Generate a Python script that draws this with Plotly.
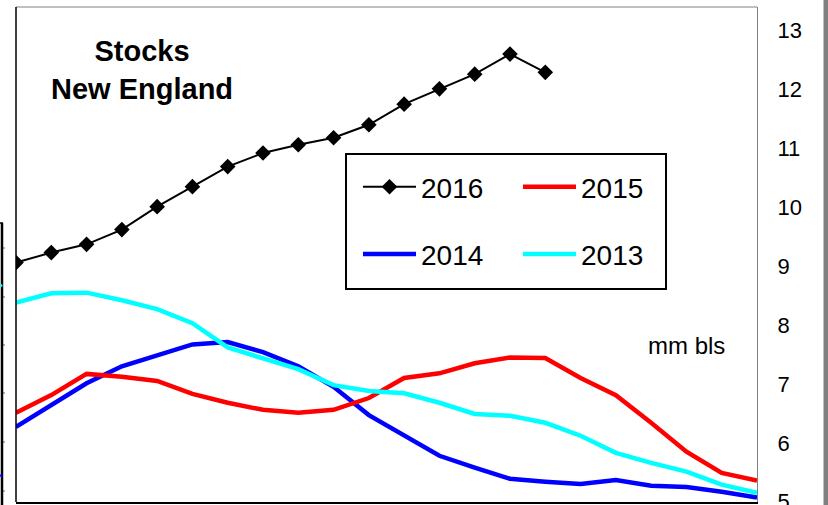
import plotly.graph_objects as go

# ---- data ----
months = list(range(22))
s2016 = [9.06, 9.23, 9.37, 9.62, 10.01, 10.35, 10.69, 10.92, 11.06, 11.18, 11.40,
         11.75, 12.01, 12.26, 12.60, 12.29]
s2015 = [6.51, 6.81, 7.17, 7.12, 7.05, 6.83, 6.68, 6.56, 6.51, 6.56, 6.76, 7.10,
         7.18, 7.35, 7.45, 7.44, 7.10, 6.81, 6.34, 5.85, 5.49, 5.36]
s2014 = [6.27, 6.64, 7.01, 7.30, 7.49, 7.67, 7.71, 7.54, 7.30, 6.95, 6.47, 6.13,
         5.78, 5.58, 5.39, 5.34, 5.30, 5.37, 5.27, 5.25, 5.17, 5.07]
s2013 = [8.38, 8.54, 8.55, 8.42, 8.27, 8.03, 7.62, 7.44, 7.25, 6.98, 6.88, 6.84,
         6.68, 6.49, 6.46, 6.34, 6.12, 5.83, 5.66, 5.51, 5.29, 5.15]
y_ticks = [5, 6, 7, 8, 9, 10, 11, 12, 13]

W, H = 828, 505
L, R, T, B = 16, 757, 7, 502
FONT = "Liberation Sans, Arial, sans-serif"


def fx(px):
    return (px - L) / (R - L)


def fy(py):
    return (B - py) / (B - T)


fig = go.Figure()
fig.add_trace(go.Scatter(x=months[:len(s2016)], y=s2016, name="2016", mode="lines+markers",
                         line=dict(color="black", width=2),
                         marker=dict(symbol="diamond", size=12, color="black"),
                         legend="legend", legendgroup="a"))
fig.add_trace(go.Scatter(x=months, y=s2014, name="2014", mode="lines",
                         line=dict(color="#0000FF", width=4.5),
                         legend="legend", legendgroup="b"))
fig.add_trace(go.Scatter(x=months, y=s2015, name="2015", mode="lines",
                         line=dict(color="#FF0000", width=4.5),
                         legend="legend2", legendgroup="c"))
fig.add_trace(go.Scatter(x=months, y=s2013, name="2013", mode="lines",
                         line=dict(color="#00FFFF", width=4.5),
                         legend="legend2", legendgroup="d"))

shapes = []
# frame: top and left
shapes.append(dict(type="line", xref="paper", yref="paper", x0=0, x1=1, y0=1, y1=1,
                   line=dict(color="#808080", width=1)))
shapes.append(dict(type="line", xref="paper", yref="paper", x0=0, x1=0, y0=0, y1=1,
                   line=dict(color="black", width=1.5)))
# legend box
shapes.append(dict(type="rect", xref="paper", yref="paper", x0=fx(346), x1=fx(666),
                   y0=fy(289), y1=fy(154), line=dict(color="black", width=2)))
# gray bar on the right edge
shapes.append(dict(type="rect", xref="paper", yref="paper", x0=fx(823.5), x1=fx(828),
                   y0=fy(505), y1=fy(0), line=dict(width=0), fillcolor="#808080"))
# remnant of neighbouring chart on the left edge
shapes.append(dict(type="line", xref="paper", yref="paper", x0=fx(2), x1=fx(2),
                   y0=fy(506), y1=fy(223), line=dict(color="black", width=2.5)))
shapes.append(dict(type="line", xref="paper", yref="paper", x0=fx(0), x1=fx(3),
                   y0=fy(223), y1=fy(223), line=dict(color="black", width=1.5)))
for ty in [248, 297, 345, 393, 442, 491]:
    shapes.append(dict(type="line", xref="paper", yref="paper", x0=fx(3), x1=fx(5),
                       y0=fy(ty), y1=fy(ty), line=dict(color="#606060", width=1)))
shapes.append(dict(type="circle", xref="paper", yref="paper", x0=fx(0), x1=fx(2.5),
                   y0=fy(287), y1=fy(284), line=dict(width=0), fillcolor="#00FFFF"))
shapes.append(dict(type="circle", xref="paper", yref="paper", x0=fx(0), x1=fx(2.5),
                   y0=fy(477), y1=fy(474), line=dict(width=0), fillcolor="#0000FF"))

annotations = [
    dict(text="<b>Stocks</b><br><b>New England</b>", xref="paper", yref="paper",
         x=fx(142), y=fy(70), xanchor="center", yanchor="middle", showarrow=False,
         font=dict(family=FONT, size=29, color="black"), align="center"),
    dict(text="mm bls", xref="paper", yref="paper", x=fx(686), y=fy(345),
         xanchor="center", yanchor="middle", showarrow=False,
         font=dict(family=FONT, size=24, color="black")),
]

leg_common = dict(bgcolor="rgba(0,0,0,0)", borderwidth=0, itemwidth=53,
                  font=dict(family=FONT, size=28, color="black"),
                  tracegroupgap=28, xanchor="left", yanchor="top", itemclick=False)

fig.update_layout(
    width=W, height=H,
    margin=dict(l=L, r=W - R, t=T, b=H - B, autoexpand=False),
    paper_bgcolor="white", plot_bgcolor="white",
    showlegend=True,
    legend=dict(x=fx(358), y=fy(162), **leg_common),
    legend2=dict(x=fx(518), y=fy(162), **leg_common),
    xaxis=dict(range=[0, 21], showticklabels=False, showgrid=False, zeroline=False,
               showline=True, linecolor="black", linewidth=1.5, ticks="",
               automargin=False),
    yaxis=dict(range=[4.995, 13.4], side="right", tickvals=y_ticks, showgrid=False,
               zeroline=False, showline=True, linecolor="#808080", linewidth=1,
               ticks="", ticklabelstandoff=15, ticklabeloverflow="allow",
               automargin=False,
               tickfont=dict(family=FONT, size=22, color="black")),
    shapes=shapes, annotations=annotations,
)

fig.write_html("out.html", config={"displayModeBar": False},
               post_script=("document.documentElement.style.overflow='hidden';"
                            "document.body.style.margin='0px';"
                            "document.body.style.overflow='hidden';"))
